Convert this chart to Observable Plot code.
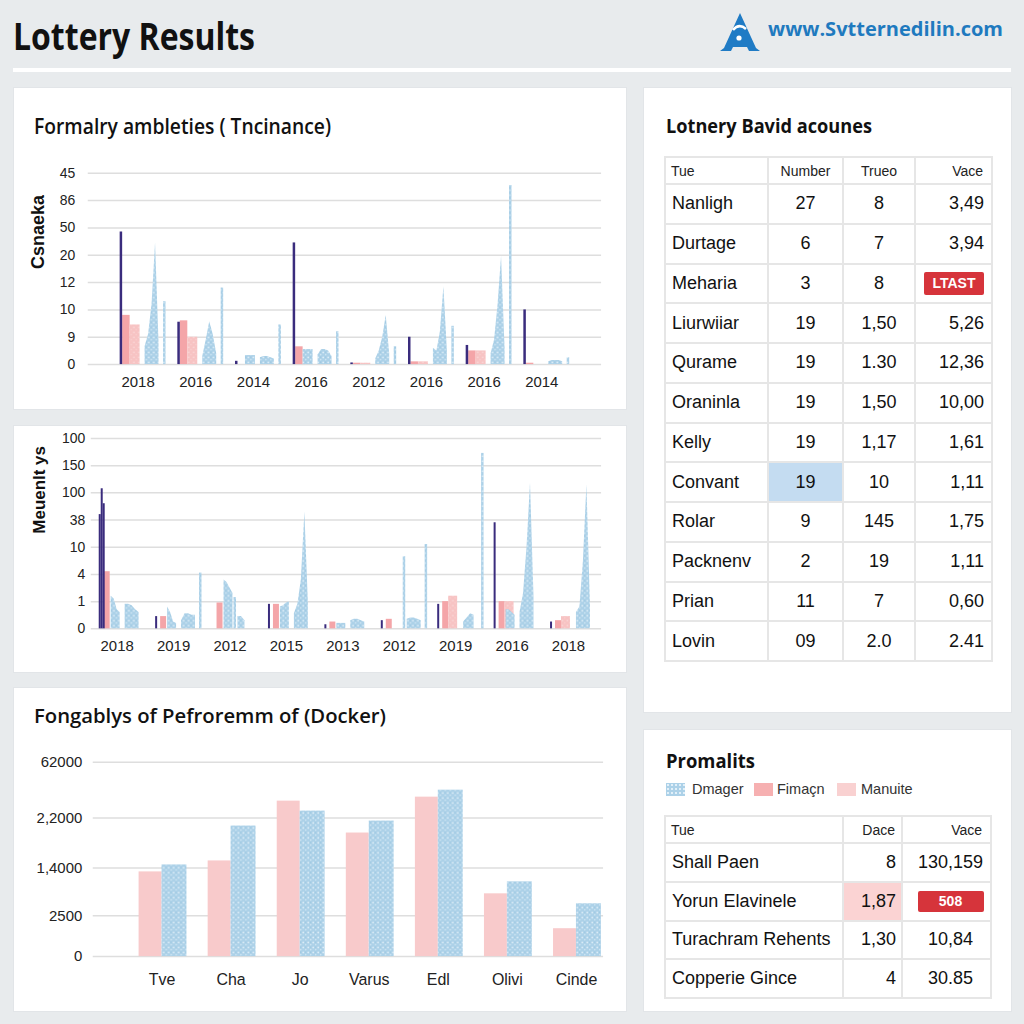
<!DOCTYPE html>
<html><head><meta charset="utf-8">
<script src="https://cdn.jsdelivr.net/npm/d3@7"></script>
<script src="https://cdn.jsdelivr.net/npm/@observablehq/plot@0.6"></script>
<style>
html,body{margin:0;padding:0;}
body{width:1024px;height:1024px;background:#e8ebed;position:relative;overflow:hidden;font-family:"Liberation Sans",Arial,sans-serif;color:#111;}
.panel{position:absolute;background:#fff;box-sizing:border-box;border:1px solid #e2e5e8;}
.panel svg{position:absolute;left:-1px;top:-1px;}
.ttl{position:absolute;font-family:"Open Sans",sans-serif;font-weight:700;color:#111;white-space:nowrap;line-height:1;}
.tbl{position:absolute;border-left:2px solid #e6e6e6;border-top:2px solid #e6e6e6;box-sizing:border-box;}
.row{display:flex;}
.cell{box-sizing:border-box;border-right:2px solid #e6e6e6;border-bottom:2px solid #e6e6e6;display:flex;align-items:center;white-space:nowrap;}
.hd .cell{font-size:14px;color:#222;}
.bd .cell{font-size:18px;color:#111;}
.badge{display:inline-block;background:#d6343b;color:#fff;font-weight:700;font-size:14px;text-align:center;border-radius:2px;}
.leg{position:absolute;font-size:14.5px;color:#333;white-space:nowrap;line-height:1;}
.sw{position:absolute;width:19px;height:13px;}
</style></head><body>
<svg width="0" height="0" style="position:absolute">
<defs>
<pattern id="bluedots" width="5" height="5" patternUnits="userSpaceOnUse">
<rect width="5" height="5" fill="#acd1e8"/>
<circle cx="1.2" cy="1.3" r="0.9" fill="#e2f0f9"/>
<circle cx="3.7" cy="3.6" r="0.8" fill="#d3e8f5"/>
<circle cx="3.6" cy="1.0" r="0.5" fill="#8ebedb"/>
</pattern>
<pattern id="pinkdots" width="5" height="5" patternUnits="userSpaceOnUse">
<rect width="5" height="5" fill="#f7c3c3"/>
<circle cx="1.3" cy="1.2" r="0.8" fill="#fbdede"/>
<circle cx="3.6" cy="3.5" r="0.7" fill="#f9d2d2"/>
</pattern>
</defs>
</svg>

<div class="ttl" id="mainTitle" data-w="242" style="left:13px;top:16px;font-size:38px;">Lottery Results</div>
<svg style="position:absolute;left:718px;top:10px" width="46" height="44" viewBox="0 0 46 44">
<path d="M22 3 L6 38 L2 41 L13 41 L15 37 L29 37 L31 41 L42 41 L38 38 Z" fill="#1f7bc5"/>
<path d="M15 20 Q21 13 28 19" stroke="#fff" stroke-width="2.6" fill="none"/>
<circle cx="21" cy="28" r="2.6" fill="#fff"/>
</svg>
<div class="ttl" id="logoText" data-w="235" style="left:768px;top:19px;font-size:20px;color:#1f7abf;">www.Svtternedilin.com</div>
<div style="position:absolute;left:13px;top:68px;width:998px;height:4px;background:#fff;"></div>

<div class="panel" id="pA" style="left:13px;top:87px;width:614px;height:323px;">
  <div class="ttl" data-w="297" style="left:20px;top:28px;font-size:21px;font-weight:600;">Formalry ambleties ( Tncinance)</div>
</div>
<div class="panel" id="pB" style="left:13px;top:425px;width:614px;height:248px;"></div>
<div class="panel" id="pC" style="left:13px;top:687px;width:614px;height:325px;">
  <div class="ttl" data-w="352" style="left:20px;top:18px;font-size:20px;font-weight:600;">Fongablys of Pefroremm of (Docker)</div>
</div>
<div class="panel" id="pD" style="left:643px;top:87px;width:369px;height:626px;">
  <div class="ttl" data-w="206" style="left:22px;top:28px;font-size:20px;">Lotnery Bavid acounes</div>
</div>
<div class="panel" id="pE" style="left:643px;top:729px;width:369px;height:283px;">
  <div class="ttl" data-w="89" style="left:22px;top:22px;font-size:19px;">Promalits</div>
</div>

<script>
// ---------------- data ----------------
// Chart 1 (grid-unit heights: one unit = one gridline step)
const chart1Years = ["2018","2016","2014","2016","2012","2016","2016","2014"];
const chart1YLabels = ["0","9","10","12","20","50","86","45"];
const c1Purple = [4.85,1.55,0.12,4.45,0.06,1.0,0.7,2.0];
const c1PinkA  = [1.8,1.6,0,0.65,0.05,0.1,0.5,0.05];
const c1PinkB  = [1.45,1.0,0,0,0.05,0.1,0.5,0];
const c1BlueNear = [0,0,0.33,0.55,0,0,0,0];
const c1Mountain = [[0.65,1.1,2.2,4.45,0.8],[0.3,0.9,1.57,1.1,0.4],[0.25,0.3,0.3,0.25,0.2],[0.35,0.55,0.55,0.5,0.3],[0.2,0.5,1.0,1.8,0.4],[0.6,0.5,1.2,2.85,0.5],[0.4,0.9,2.2,3.95,0.6],[0.1,0.15,0.15,0.15,0.1]];
const c1Thin = [2.3,2.8,1.45,1.2,0.65,1.4,6.55,0.25];

// Chart 2
const chart2Years = ["2018","2019","2012","2015","2013","2012","2019","2016","2018"];
const chart2YLabels = ["0","1","4","10","38","100","150","100"];
const c2PurpleA = [4.2,0.45,0,0.9,0.15,0.3,0.9,3.9,0.25];
const c2PurpleB = [5.15,0,0,0,0,0,0,0,0];
const c2PurpleC = [4.6,0,0,0,0,0,0,0,0];
const c2PinkA = [2.1,0.45,0.95,0.9,0.25,0.35,1.0,1.0,0.3];
const c2PinkB = [0,0,0,0,0,0,1.2,1.0,0.45];
const c2BlueA = [[1.2,1.1,0.7,0.6],[0.8,0.6,0.25,0.2],[1.8,1.7,1.5,1.3],[0.8,0.85,0.95,1.0],[0.2,0.2,0.2,0.2],null,null,[0.7,0.7,0.6,0.5],null];
const c2ThinA = [0,0,1.15,0,0,2.65,0,0,0];
const c2Mountain = [[0.9,0.9,0.85,0.7,0.6],[0.3,0.55,0.55,0.5,0.5],[0.45,0.45,0.3,null,null],[0.55,0.9,1.8,4.3,1.0],[0.3,0.35,0.35,0.3,0.25],[0.35,0.4,0.4,0.35,0.3],[0.25,0.4,0.55,0.5,null],[0.6,1.3,3.0,5.35,1.2],[0.6,0.8,2.5,5.3,0.9]];
const c2ThinB = [0,2.05,0,0,0,3.1,6.45,0,0];

// Chart 3
const chart3Names = ["Tve","Cha","Jo","Varus","Edl","Olivi","Cinde"];
const chart3YLabels = ["0","2500","1,4000","2,2000","62000"];
const chart3YTicks = [0,41,89,139,195];
const c3Pink = [85,96,156,124,160,63,28];
const c3Blue = [92,131,146,136,167,75,53];

// Table D
const tdHead = ["Tue","Number","Trueo","Vace"];
const tdNames = ["Nanligh","Durtage","Meharia","Liurwiiar","Qurame","Oraninla","Kelly","Convant","Rolar","Packnenv","Prian","Lovin"];
const tdNumber = ["27","6","3","19","19","19","19","19","9","2","11","09"];
const tdTrueo = ["8","7","8","1,50","1.30","1,50","1,17","10","145","19","7","2.0"];
const tdVace = ["3,49","3,94","LTAST","5,26","12,36","10,00","1,61","1,11","1,75","1,11","0,60","2.41"];

// Table E
const teLegend = ["Dmager","Fimaçn","Manuite"];
const teHead = ["Tue","Dace","Vace"];
const teNames = ["Shall Paen","Yorun Elavinele","Turachram Rehents","Copperie  Gince"];
const teDace = ["8","1,87","1,30","4"];
const teVace = ["130,159","508","10,84","30.85"];

// ---------------- layout ----------------
const FONT = '"Liberation Sans", Arial, sans-serif';
const PURPLE = "#3a2c7d", PINK = "#f4a5a8", PINKL = "url(#pinkdots)", BLUE = "url(#bluedots)";

function rectData(vals, slot, step) {
  return vals.map((v, i) => ({i, v})).filter(d => d.v > 0)
    .map(d => ({x1: d.i + slot[0] / step, x2: d.i + slot[1] / step, v: d.v}));
}
function areaData(arr, slot, step) {
  const out = [];
  arr.forEach((pts, i) => {
    if (!pts) return;
    pts.forEach((v, j) => out.push({g: i, x: i + (slot[0] + j * (slot[1] - slot[0]) / (pts.length - 1)) / step, v: v == null ? NaN : v}));
  });
  return out;
}
const bar = (data, fill) => Plot.rect(data, {x1: "x1", x2: "x2", y1: () => 0, y2: "v", fill});
const mountain = (data, fill) => Plot.area(data, {x1: "x", y1: () => 0, y2: "v", z: "g", fill});

function frame(cfg) {
  return {
    width: cfg.w, height: cfg.h,
    marginLeft: cfg.left - cfg.px, marginRight: cfg.px + cfg.w - cfg.right,
    marginTop: cfg.top - cfg.py, marginBottom: cfg.py + cfg.h - cfg.bottom,
    x: {type: "linear", domain: [(cfg.left - cfg.first) / cfg.step, (cfg.right - cfg.first) / cfg.step]},
    style: {fontFamily: FONT, color: "#222", background: "transparent", overflow: "visible"}
  };
}

// Chart 1
{
  const cfg = {px: 13, py: 87, w: 614, h: 323, left: 88, right: 603, top: 173, bottom: 365, first: 138, step: 57.86};
  const s = cfg.step;
  const ticks = d3.range(chart1YLabels.length);
  const p = Plot.plot({
    ...frame(cfg),
    y: {type: "linear", domain: [0, chart1YLabels.length - 1]},
    marks: [
      Plot.gridY(ticks, {stroke: "#dedede", strokeOpacity: 1, strokeWidth: 1.5}),
      bar(rectData(c1PinkA, [-15.5, -8], s), PINK),
      bar(rectData(c1PinkB, [-8, 2], s), PINKL),
      bar(rectData(c1BlueNear, [-8, 2], s), BLUE),
      mountain(areaData(c1Mountain, [7, 21], s), BLUE),
      bar(rectData(c1Thin, [25.5, 28], s), BLUE),
      bar(rectData(c1Purple, [-18, -15.5], s), PURPLE),
      Plot.axisY({ticks, tickFormat: d => chart1YLabels[d], tickSize: 0, tickPadding: 13, fontSize: 14, label: null}),
      Plot.axisX({ticks: d3.range(chart1Years.length), tickFormat: d => chart1Years[d], tickSize: 0, tickPadding: 12, fontSize: 15, label: null}),
      Plot.text(["Csnaeka"], {frameAnchor: "left", dx: -50, rotate: -90, fontSize: 18, fontWeight: "bold", fill: "#111", text: d => d})
    ]
  });
  document.getElementById("pA").appendChild(p);
}

// Chart 2
{
  const cfg = {px: 13, py: 425, w: 614, h: 248, left: 91, right: 603, top: 438, bottom: 629, first: 117, step: 56.6};
  const s = cfg.step;
  const ticks = d3.range(chart2YLabels.length);
  const p = Plot.plot({
    ...frame(cfg),
    y: {type: "linear", domain: [0, chart2YLabels.length - 1]},
    marks: [
      Plot.gridY(ticks, {stroke: "#dedede", strokeOpacity: 1, strokeWidth: 1.5}),
      bar(rectData(c2PinkA, [-13, -7], s), PINK),
      bar(rectData(c2PinkB, [-7, 2], s), PINKL),
      mountain(areaData(c2BlueA, [-6, 3], s), BLUE),
      bar(rectData(c2ThinA, [4, 6.5], s), BLUE),
      mountain(areaData(c2Mountain, [8, 22], s), BLUE),
      bar(rectData(c2ThinB, [26, 28.5], s), BLUE),
      bar(rectData(c2PurpleA, [-18, -16], s), PURPLE),
      bar(rectData(c2PurpleB, [-16, -14], s), PURPLE),
      bar(rectData(c2PurpleC, [-14, -12], s), PURPLE),
      Plot.axisY({ticks, tickFormat: d => chart2YLabels[d], tickSize: 0, tickPadding: 6, fontSize: 14, label: null}),
      Plot.axisX({ticks: d3.range(chart2Years.length), tickFormat: d => chart2Years[d], tickSize: 0, tickPadding: 12, fontSize: 15, label: null}),
      Plot.text(["Meuenlt ys"], {frameAnchor: "left", dx: -52, rotate: -90, fontSize: 17, fontWeight: "bold", fill: "#111", text: d => d})
    ]
  });
  document.getElementById("pB").appendChild(p);
}

// Chart 3
{
  const cfg = {px: 13, py: 687, w: 614, h: 325, left: 93, right: 605, top: 762, bottom: 957, first: 162, step: 69.3};
  const s = cfg.step;
  const p = Plot.plot({
    ...frame(cfg),
    y: {type: "linear", domain: [0, chart3YTicks[chart3YTicks.length - 1]]},
    marks: [
      Plot.gridY(chart3YTicks, {stroke: "#dedede", strokeOpacity: 1, strokeWidth: 1.5}),
      bar(rectData(c3Pink, [-23, 0], s), "#f8cacb"),
      bar(rectData(c3Blue, [0, 25], s), BLUE),
      Plot.axisY({ticks: chart3YTicks, tickFormat: d => chart3YLabels[chart3YTicks.indexOf(d)], tickSize: 0, tickPadding: 11, fontSize: 15, label: null}),
      Plot.axisX({ticks: d3.range(chart3Names.length), tickFormat: d => chart3Names[d], tickSize: 0, tickPadding: 17, fontSize: 16, label: null})
    ]
  });
  document.getElementById("pC").appendChild(p);
}

// ---------------- tables ----------------
function makeTable(parent, left, top, widths, headH, rowH, head, rows, aligns, headAligns, pads, headPads) {
  const t = document.createElement("div");
  t.className = "tbl";
  t.style.left = left + "px"; t.style.top = top + "px";
  const addRow = (cells, h, cls) => {
    const r = document.createElement("div");
    r.className = "row " + cls;
    cells.forEach((c, j) => {
      const d = document.createElement("div");
      d.className = "cell";
      d.style.width = widths[j] + "px";
      d.style.height = h + "px";
      const al = cls === "hd" ? headAligns[j] : aligns[j];
      d.style.justifyContent = al === "left" ? "flex-start" : al === "right" ? "flex-end" : "center";
      d.style.padding = cls === "hd" ? headPads[j] : pads[j];
      if (typeof c === "object") {
        if (c.bg) d.style.background = c.bg;
        if (c.badge) {
          const b = document.createElement("span");
          b.className = "badge";
          b.style.width = c.badge[0] + "px"; b.style.height = c.badge[1] + "px"; b.style.lineHeight = c.badge[1] + "px";
          b.textContent = c.text;
          d.appendChild(b);
        } else d.textContent = c.text;
      } else d.textContent = c;
      r.appendChild(d);
    });
    t.appendChild(r);
  };
  addRow(head, headH, "hd");
  rows.forEach(r => addRow(r, rowH, "bd"));
  parent.appendChild(t);
}

makeTable(document.getElementById("pD"), 20, 68, [103, 75, 72, 77], 27, 39.75, tdHead,
  tdNames.map((n, i) => [n,
    n === "Convant" ? {text: tdNumber[i], bg: "#c4dcf1"} : tdNumber[i],
    tdTrueo[i],
    tdVace[i] === "LTAST" ? {text: tdVace[i], badge: [60, 23]} : tdVace[i]]),
  ["left", "center", "center", "right"], ["left", "center", "center", "right"],
  ["0 0 0 6px", "0", "0", "0 7px 0 0"], ["0 0 0 5px", "0", "0", "0 8px 0 0"]);

makeTable(document.getElementById("pE"), 20, 85, [178, 59, 89], 27, 38.75, teHead,
  teNames.map((n, i) => [n,
    i === 1 ? {text: teDace[i], bg: "#fbd3d3"} : teDace[i],
    i === 1 ? {text: teVace[i], badge: [66, 21]} : teVace[i]]),
  ["left", "center", "center"].map((a, j) => j === 1 ? "right" : a), ["left", "right", "right"],
  ["0 0 0 6px", "0 5px 0 0", "0 0 0 8px"], ["0 0 0 5px", "0 6px 0 0", "0 8px 0 0"]);

// legend for table E
{
  const pE = document.getElementById("pE");
  const fills = ["#acd1e8", "#f6b0b1", "#f9d1d1"];
  const swX = [22, 110, 193], txX = [48, 133, 217];
  teLegend.forEach((name, i) => {
    const sw = document.createElement("div");
    sw.className = "sw";
    sw.style.left = swX[i] + "px"; sw.style.top = "53px"; sw.style.background = fills[i];
    if (i === 0) sw.style.backgroundImage = "radial-gradient(#e2f0f9 0.9px, transparent 1px)", sw.style.backgroundSize = "4px 4px";
    pE.appendChild(sw);
    const tx = document.createElement("div");
    tx.className = "leg";
    tx.style.left = txX[i] + "px"; tx.style.top = "52px";
    tx.textContent = name;
    pE.appendChild(tx);
  });
}

// fit condensed headings to their measured widths
function fit() {
  document.querySelectorAll("[data-w]").forEach(el => {
    el.style.transform = "none";
    const w = el.getBoundingClientRect().width;
    el.style.transformOrigin = "0 50%";
    el.style.transform = `scaleX(${(+el.dataset.w) / w})`;
  });
}
fit();
if (document.fonts) document.fonts.ready.then(fit);
</script>
</body></html>
